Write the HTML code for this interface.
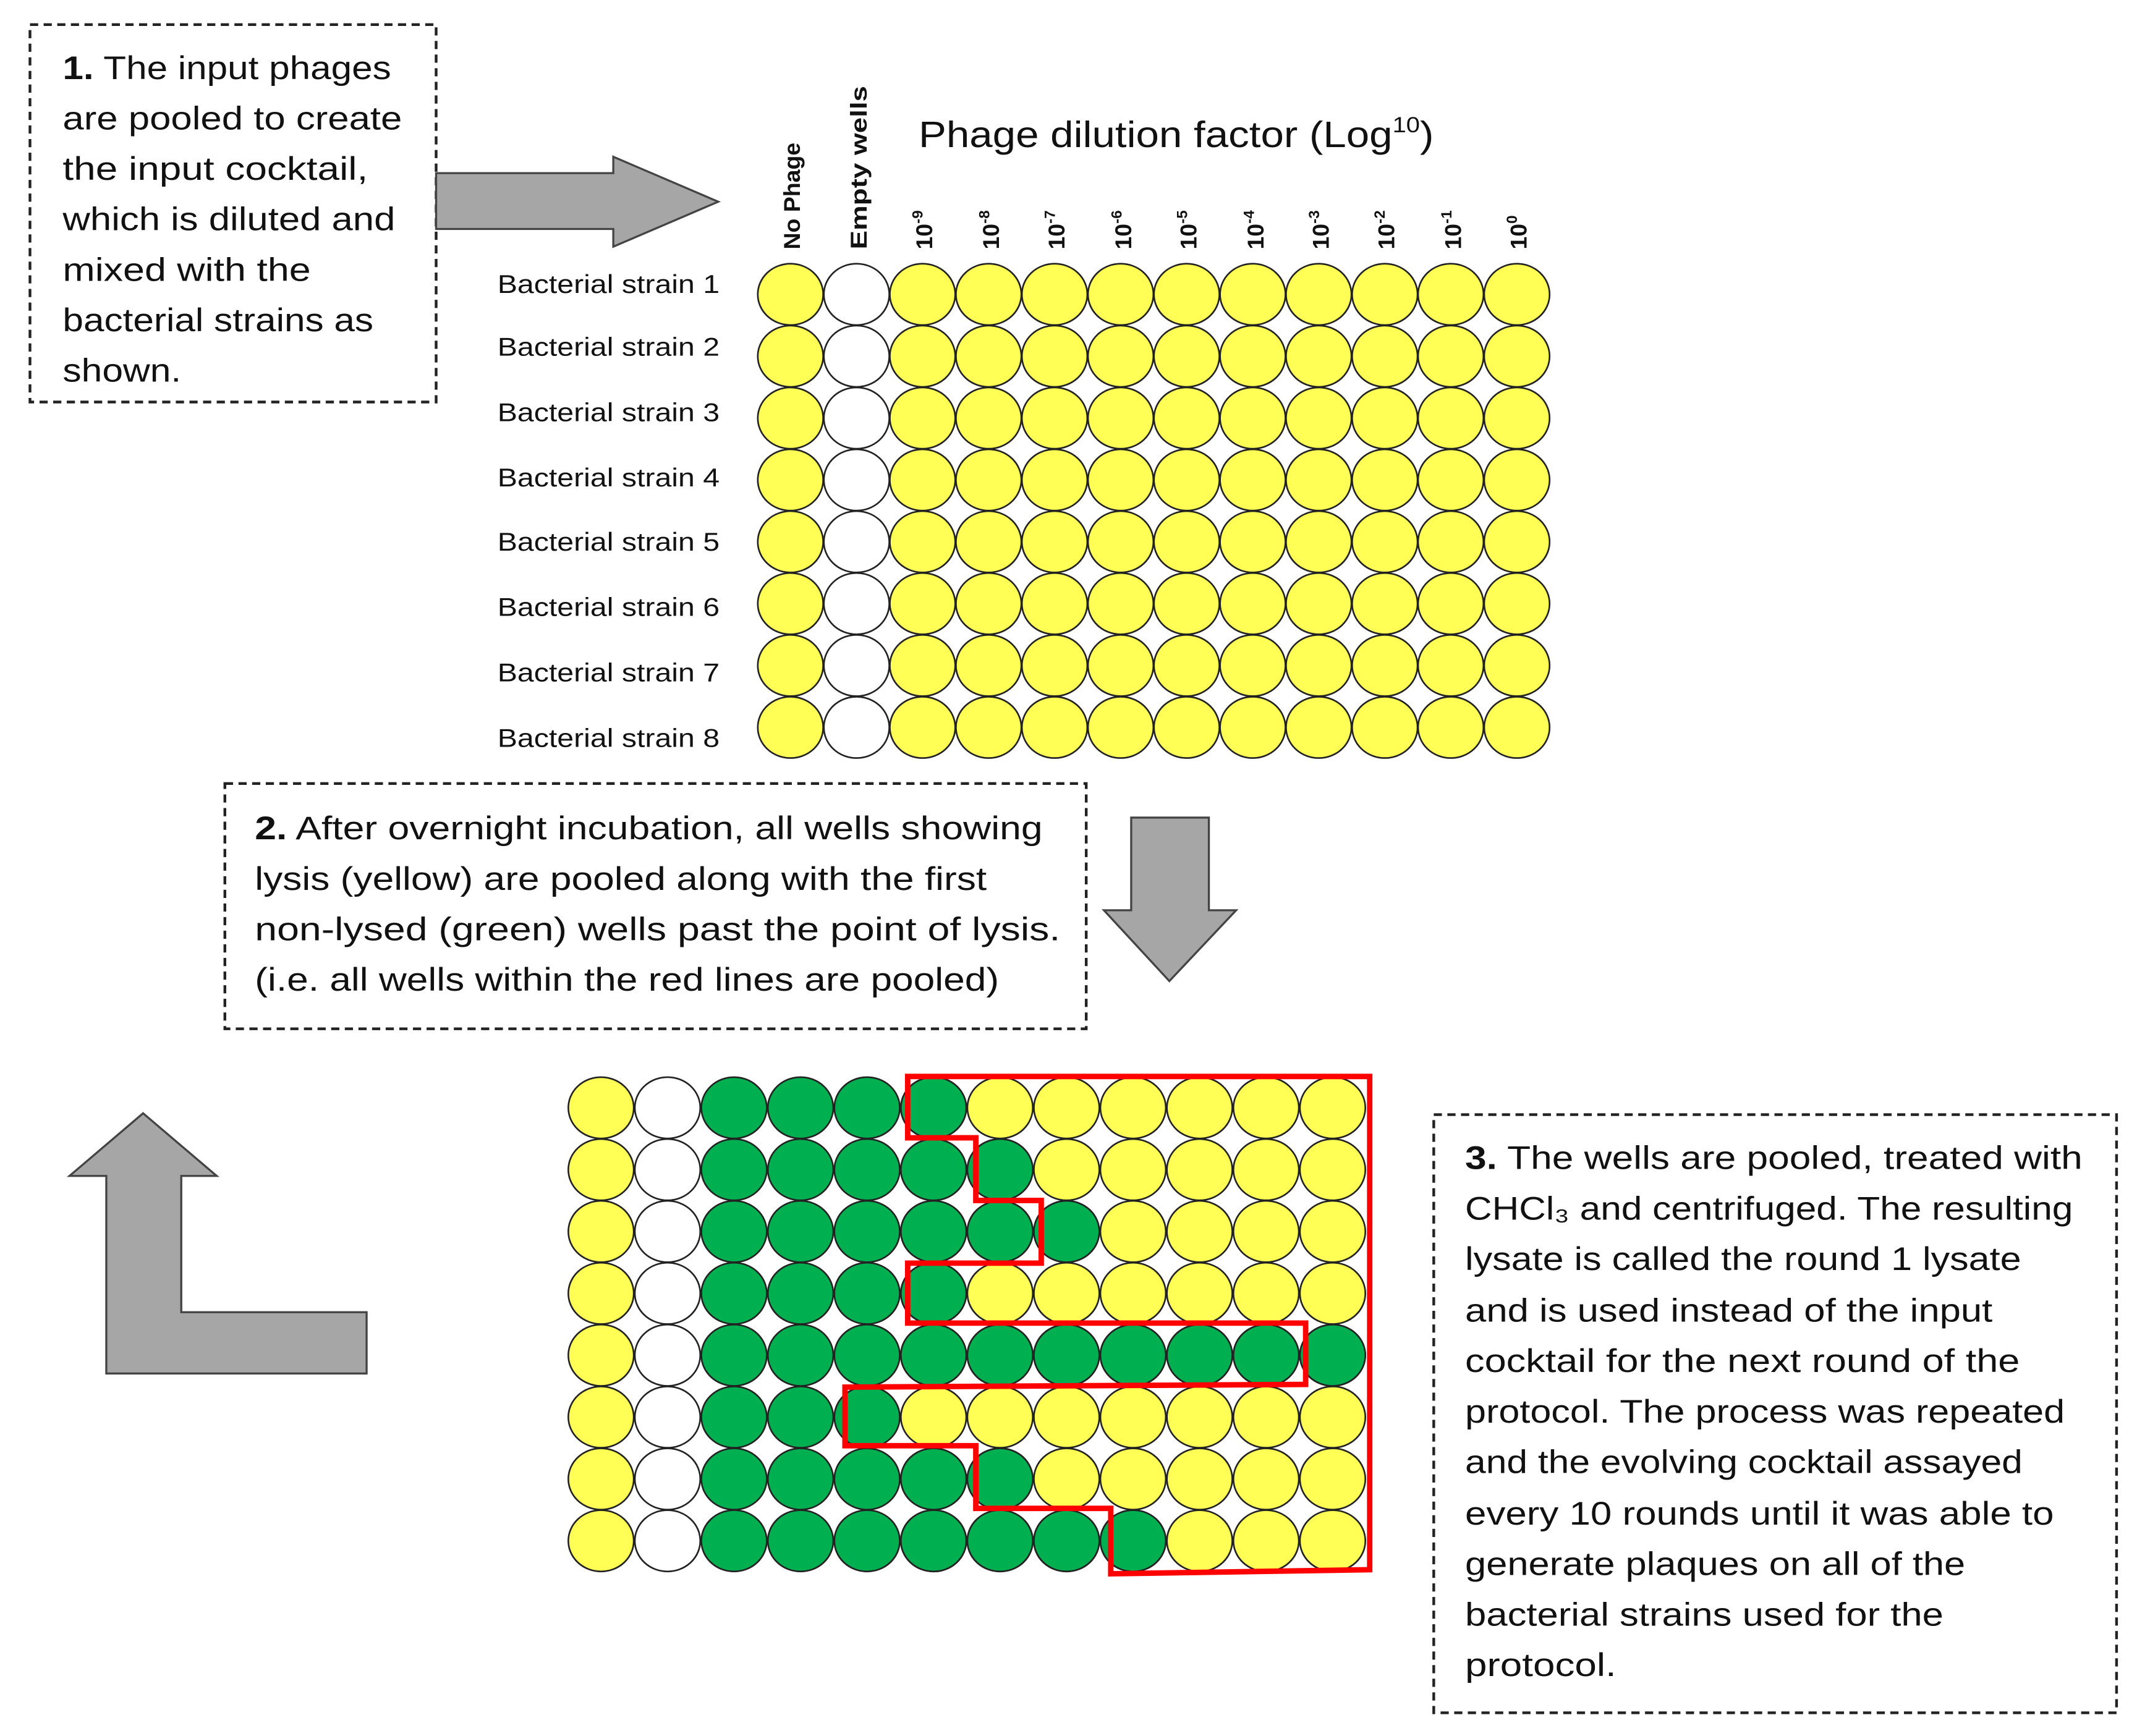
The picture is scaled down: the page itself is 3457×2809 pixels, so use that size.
<!DOCTYPE html>
<html><head><meta charset="utf-8"><style>html,body{margin:0;padding:0;background:#fff}svg{display:block}</style></head>
<body>
<svg width="3457" height="2809" viewBox="0 0 1568 1274" xmlns="http://www.w3.org/2000/svg" xmlns:xlink="http://www.w3.org/1999/xlink" font-family="'Liberation Sans', sans-serif">
<defs>
<g id="trow" stroke="#222" stroke-width="1.2">
<ellipse cx="580" cy="0" rx="24" ry="22.5" fill="#ffff55"/>
<ellipse cx="628.5" cy="0" rx="24" ry="22.5" fill="#fff"/>
<ellipse cx="676.9" cy="0" rx="24" ry="22.5" fill="#ffff55"/>
<ellipse cx="725.4" cy="0" rx="24" ry="22.5" fill="#ffff55"/>
<ellipse cx="773.8" cy="0" rx="24" ry="22.5" fill="#ffff55"/>
<ellipse cx="822.3" cy="0" rx="24" ry="22.5" fill="#ffff55"/>
<ellipse cx="870.7" cy="0" rx="24" ry="22.5" fill="#ffff55"/>
<ellipse cx="919.2" cy="0" rx="24" ry="22.5" fill="#ffff55"/>
<ellipse cx="967.6" cy="0" rx="24" ry="22.5" fill="#ffff55"/>
<ellipse cx="1016.1" cy="0" rx="24" ry="22.5" fill="#ffff55"/>
<ellipse cx="1064.5" cy="0" rx="24" ry="22.5" fill="#ffff55"/>
<ellipse cx="1113" cy="0" rx="24" ry="22.5" fill="#ffff55"/>
</g>
<g id="brow" stroke="#222" stroke-width="1.2">
<ellipse cx="441" cy="0" rx="24" ry="22.5" fill="#ffff55"/>
<ellipse cx="489.8" cy="0" rx="24" ry="22.5" fill="#fff"/>
<ellipse cx="538.6" cy="0" rx="24" ry="22.5" fill="#00b050"/>
<ellipse cx="587.4" cy="0" rx="24" ry="22.5" fill="#00b050"/>
<ellipse cx="636.2" cy="0" rx="24" ry="22.5" fill="#00b050"/>
<ellipse cx="685" cy="0" rx="24" ry="22.5" fill="#ffff55"/>
<ellipse cx="733.8" cy="0" rx="24" ry="22.5" fill="#ffff55"/>
<ellipse cx="782.6" cy="0" rx="24" ry="22.5" fill="#ffff55"/>
<ellipse cx="831.4" cy="0" rx="24" ry="22.5" fill="#ffff55"/>
<ellipse cx="880.2" cy="0" rx="24" ry="22.5" fill="#ffff55"/>
<ellipse cx="929" cy="0" rx="24" ry="22.5" fill="#ffff55"/>
<ellipse cx="977.8" cy="0" rx="24" ry="22.5" fill="#ffff55"/>
</g>
<ellipse id="g5" cx="685" cy="0" rx="24" ry="22.5" fill="#00b050" stroke="#222" stroke-width="1.2"/>
<ellipse id="g6" cx="733.8" cy="0" rx="24" ry="22.5" fill="#00b050" stroke="#222" stroke-width="1.2"/>
<ellipse id="g7" cx="782.6" cy="0" rx="24" ry="22.5" fill="#00b050" stroke="#222" stroke-width="1.2"/>
<ellipse id="g8" cx="831.4" cy="0" rx="24" ry="22.5" fill="#00b050" stroke="#222" stroke-width="1.2"/>
<ellipse id="g9" cx="880.2" cy="0" rx="24" ry="22.5" fill="#00b050" stroke="#222" stroke-width="1.2"/>
<ellipse id="g10" cx="929" cy="0" rx="24" ry="22.5" fill="#00b050" stroke="#222" stroke-width="1.2"/>
<ellipse id="g11" cx="977.8" cy="0" rx="24" ry="22.5" fill="#00b050" stroke="#222" stroke-width="1.2"/>
</defs>
<rect x="0" y="0" width="1568" height="1274" fill="#fff"/>
<!-- Box 1 -->
<rect x="22" y="18" width="298" height="277" fill="none" stroke="#222" stroke-width="2" stroke-dasharray="6,4"/>
<g font-size="24" fill="#111">
<text x="46" y="58" textLength="241" lengthAdjust="spacingAndGlyphs"><tspan font-weight="bold">1.</tspan> The input phages</text>
<text x="46" y="95" textLength="249" lengthAdjust="spacingAndGlyphs">are pooled to create</text>
<text x="46" y="132" textLength="224" lengthAdjust="spacingAndGlyphs">the input cocktail,</text>
<text x="46" y="169" textLength="244" lengthAdjust="spacingAndGlyphs">which is diluted and</text>
<text x="46" y="206" textLength="182" lengthAdjust="spacingAndGlyphs">mixed with the</text>
<text x="46" y="243" textLength="228" lengthAdjust="spacingAndGlyphs">bacterial strains as</text>
<text x="46" y="280" textLength="87" lengthAdjust="spacingAndGlyphs">shown.</text>
</g>
<polygon points="320,127 450,127 450,115 527,148 450,181 450,168 320,168" fill="#a6a6a6" stroke="#444" stroke-width="1.5"/>
<text x="674" y="108" font-size="27" fill="#111" textLength="378" lengthAdjust="spacingAndGlyphs">Phage dilution factor (Log<tspan font-size="16" dy="-11">10</tspan><tspan dy="11">)</tspan></text>
<g font-size="17" font-weight="bold" fill="#111">
<text transform="translate(587,183) rotate(-90)">No Phage</text>
<text transform="translate(636,183) rotate(-90)" textLength="120" lengthAdjust="spacingAndGlyphs">Empty wells</text>
<text transform="translate(684,183) rotate(-90)">10<tspan font-size="11" dy="-7">-9</tspan></text>
<text transform="translate(733,183) rotate(-90)">10<tspan font-size="11" dy="-7">-8</tspan></text>
<text transform="translate(781,183) rotate(-90)">10<tspan font-size="11" dy="-7">-7</tspan></text>
<text transform="translate(830,183) rotate(-90)">10<tspan font-size="11" dy="-7">-6</tspan></text>
<text transform="translate(878,183) rotate(-90)">10<tspan font-size="11" dy="-7">-5</tspan></text>
<text transform="translate(927,183) rotate(-90)">10<tspan font-size="11" dy="-7">-4</tspan></text>
<text transform="translate(975,183) rotate(-90)">10<tspan font-size="11" dy="-7">-3</tspan></text>
<text transform="translate(1023,183) rotate(-90)">10<tspan font-size="11" dy="-7">-2</tspan></text>
<text transform="translate(1072,183) rotate(-90)">10<tspan font-size="11" dy="-7">-1</tspan></text>
<text transform="translate(1120,183) rotate(-90)">10<tspan font-size="11" dy="-7">0</tspan></text>
</g>
<g font-size="19" fill="#111" text-anchor="end">
<text x="528" y="215" textLength="163" lengthAdjust="spacingAndGlyphs">Bacterial strain 1</text>
<text x="528" y="261" textLength="163" lengthAdjust="spacingAndGlyphs">Bacterial strain 2</text>
<text x="528" y="309" textLength="163" lengthAdjust="spacingAndGlyphs">Bacterial strain 3</text>
<text x="528" y="357" textLength="163" lengthAdjust="spacingAndGlyphs">Bacterial strain 4</text>
<text x="528" y="404" textLength="163" lengthAdjust="spacingAndGlyphs">Bacterial strain 5</text>
<text x="528" y="452" textLength="163" lengthAdjust="spacingAndGlyphs">Bacterial strain 6</text>
<text x="528" y="500" textLength="163" lengthAdjust="spacingAndGlyphs">Bacterial strain 7</text>
<text x="528" y="548" textLength="163" lengthAdjust="spacingAndGlyphs">Bacterial strain 8</text>
</g>
<!-- top plate -->
<use xlink:href="#trow" href="#trow" y="216"/>
<use xlink:href="#trow" href="#trow" y="261.4"/>
<use xlink:href="#trow" href="#trow" y="306.8"/>
<use xlink:href="#trow" href="#trow" y="352.2"/>
<use xlink:href="#trow" href="#trow" y="397.6"/>
<use xlink:href="#trow" href="#trow" y="443"/>
<use xlink:href="#trow" href="#trow" y="488.4"/>
<use xlink:href="#trow" href="#trow" y="533.8"/>
<!-- Box 2 -->
<rect x="165" y="575" width="632" height="180" fill="none" stroke="#222" stroke-width="2" stroke-dasharray="6,4"/>
<g font-size="24" fill="#111">
<text x="187" y="616" textLength="578" lengthAdjust="spacingAndGlyphs"><tspan font-weight="bold">2.</tspan> After overnight incubation, all wells showing</text>
<text x="187" y="653" textLength="537" lengthAdjust="spacingAndGlyphs">lysis (yellow) are pooled along with the first</text>
<text x="187" y="690" textLength="591" lengthAdjust="spacingAndGlyphs">non-lysed (green) wells past the point of lysis.</text>
<text x="187" y="727" textLength="546" lengthAdjust="spacingAndGlyphs">(i.e. all wells within the red lines are pooled)</text>
</g>
<polygon points="830,600 887,600 887,668 907,668 858,720 810,668 830,668" fill="#a6a6a6" stroke="#444" stroke-width="1.5"/>
<polygon points="105,817 159,863 133,863 133,963 269,963 269,1008 78,1008 78,863 51,863" fill="#a6a6a6" stroke="#444" stroke-width="1.5"/>
<!-- bottom plate -->
<use href="#brow" xlink:href="#brow" y="813"/>
<use href="#brow" xlink:href="#brow" y="858.4"/>
<use href="#brow" xlink:href="#brow" y="903.8"/>
<use href="#brow" xlink:href="#brow" y="949.2"/>
<use href="#brow" xlink:href="#brow" y="994.6"/>
<use href="#brow" xlink:href="#brow" y="1040"/>
<use href="#brow" xlink:href="#brow" y="1085.4"/>
<use href="#brow" xlink:href="#brow" y="1130.8"/>
<use href="#g5" xlink:href="#g5" y="813"/>
<use href="#g5" xlink:href="#g5" y="858.4"/><use href="#g6" xlink:href="#g6" y="858.4"/>
<use href="#g5" xlink:href="#g5" y="903.8"/><use href="#g6" xlink:href="#g6" y="903.8"/><use href="#g7" xlink:href="#g7" y="903.8"/>
<use href="#g5" xlink:href="#g5" y="949.2"/>
<use href="#g5" xlink:href="#g5" y="994.6"/><use href="#g6" xlink:href="#g6" y="994.6"/><use href="#g7" xlink:href="#g7" y="994.6"/><use href="#g8" xlink:href="#g8" y="994.6"/><use href="#g9" xlink:href="#g9" y="994.6"/><use href="#g10" xlink:href="#g10" y="994.6"/><use href="#g11" xlink:href="#g11" y="994.6"/>
<use href="#g5" xlink:href="#g5" y="1085.4"/><use href="#g6" xlink:href="#g6" y="1085.4"/>
<use href="#g5" xlink:href="#g5" y="1130.8"/><use href="#g6" xlink:href="#g6" y="1130.8"/><use href="#g7" xlink:href="#g7" y="1130.8"/><use href="#g8" xlink:href="#g8" y="1130.8"/>
<path d="M666,790 L1005,790 L1005,1152 L815,1155 L815,1107 L716,1107 L716,1061 L620,1061 L620,1018 L958,1016 L958,971 L666,971 L666,927 L764,927 L764,881 L716,881 L716,835 L666,835 Z" fill="none" stroke="#ff0000" stroke-width="4"/>
<!-- Box 3 -->
<rect x="1052" y="818" width="501" height="439" fill="none" stroke="#222" stroke-width="2" stroke-dasharray="6,4"/>
<g font-size="24" fill="#111">
<text x="1075" y="858" textLength="453" lengthAdjust="spacingAndGlyphs"><tspan font-weight="bold">3.</tspan> The wells are pooled, treated with</text>
<text x="1075" y="895" textLength="446" lengthAdjust="spacingAndGlyphs">CHCl₃ and centrifuged. The resulting</text>
<text x="1075" y="932" textLength="408" lengthAdjust="spacingAndGlyphs">lysate is called the round 1 lysate</text>
<text x="1075" y="970" textLength="387" lengthAdjust="spacingAndGlyphs">and is used instead of the input</text>
<text x="1075" y="1007" textLength="407" lengthAdjust="spacingAndGlyphs">cocktail for the next round of the</text>
<text x="1075" y="1044" textLength="440" lengthAdjust="spacingAndGlyphs">protocol. The process was repeated</text>
<text x="1075" y="1081" textLength="409" lengthAdjust="spacingAndGlyphs">and the evolving cocktail assayed</text>
<text x="1075" y="1119" textLength="432" lengthAdjust="spacingAndGlyphs">every 10 rounds until it was able to</text>
<text x="1075" y="1156" textLength="367" lengthAdjust="spacingAndGlyphs">generate plaques on all of the</text>
<text x="1075" y="1193" textLength="351" lengthAdjust="spacingAndGlyphs">bacterial strains used for the</text>
<text x="1075" y="1230" textLength="111" lengthAdjust="spacingAndGlyphs">protocol.</text>
</g>
</svg>
</body></html>
